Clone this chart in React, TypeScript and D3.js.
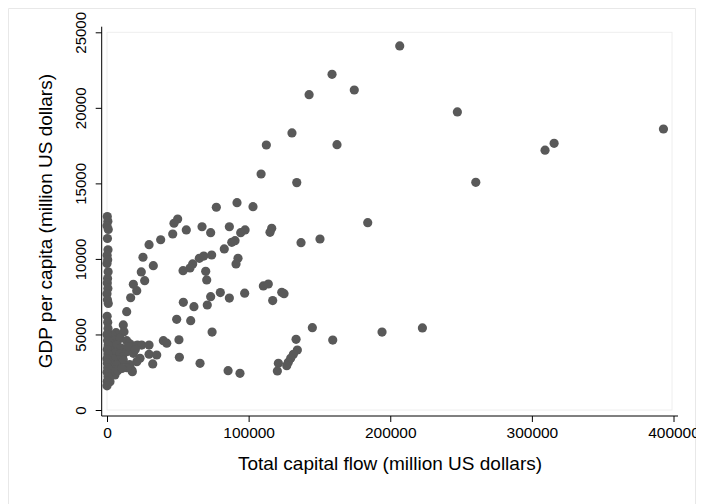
import React, { useEffect, useRef } from 'react';
import * as d3 from 'd3';

// Total capital flow (million US dollars)
const capitalFlow: number[] = [
  206700, 158900, 174600, 142700, 247400, 392900, 315700, 309300, 130600, 112500,
  162400, 108800, 134000, 260400, 184100, 137000, 150400,
  77200, 91800, 103100, 49900, 47300, 56000, 67100, 73200, 86400, 97500,
  94400, 116300, 115100, 46400, 37900, 29700, 25400, 32700, 24200, 26600,
  18600, 21000, 16700, 13900, 82800, 90400, 88100, 92500, 91100, 65200,
  68300, 73900, 60500, 58600, 53700, 69700, 70400, 110400, 113900, 123400,
  125000, 117000, 97200, 80000, 73200, 86400, 53900, 61400, 70800, 49200, 59100,
  74200, 39800, 42200, 50800, 51100, 65700, 85500, 93900, 145000, 133500,
  159400, 194200, 222700, 134400, 131600, 129700, 128000, 126900, 121000, 120300,
  11500, 6400, 12000, 3500, 8000, 5600, 9200, 13900, 15800, 18600,
  21500, 24500, 29700, 2500, 4500, 7000, 10000, 12500, 3000, 6000,
  9000, 13900, 18600, 11000, 8000, 4000, 2500, 23300, 21000, 29700,
  35100, 32300, 17400, 17900, 11500, 6900, 4400, 5600, 2100, 16000,
  14000, 3800, 1500, 15000, 20000, 7500, 10500,
  200, 600, 0, 900, 300, 700, 100, 500, 0, 800,
  400, 200, 600, 0, 300, 900, 100, 500, 700, 0,
  400, 800, 200, 600, 0, 300, 500, 100, 700, 200, 0,
];

// GDP per capita (million US dollars)
const gdpPerCapita: number[] = [
  24100, 22220, 21180, 20870, 19730, 18600, 17650, 17200, 18340, 17540,
  17560, 15620, 15050, 15070, 12400, 11075, 11320,
  13420, 13720, 13460, 12640, 12360, 11920, 12130, 11740, 12130, 11920,
  11740, 12030, 11760, 11650, 11270, 10940, 10110, 9550, 9140, 8560,
  8320, 7900, 7430, 6510, 10660, 11210, 11100, 10040, 9670, 10040,
  10190, 10260, 9670, 9400, 9220, 9180, 8610, 8210, 8340, 7790,
  7700, 7240, 7730, 7770, 7500, 7410, 7130, 6840, 6950, 6000, 5910,
  5160, 4590, 4420, 4650, 3490, 3090, 2600, 2430, 5450, 4680,
  4630, 5160, 5430, 3970, 3690, 3420, 3160, 2930, 3090, 2580,
  5630, 5120, 5180, 4950, 4700, 4630, 4750, 4590, 4400, 4240,
  4300, 4300, 4300, 4400, 4200, 4300, 4100, 4000, 3900, 3800,
  3700, 3860, 3750, 3500, 3300, 3400, 3100, 3420, 3200, 3690,
  3640, 3050, 2650, 2540, 3310, 2980, 2650, 2320, 1870, 3000,
  2800, 2600, 2100, 4200, 4000, 2600, 2750,
  12800, 12500, 12200, 11950, 11350, 10600, 10250, 9950, 9700, 9150,
  8700, 8400, 8050, 7700, 7300, 7050, 6200, 5800, 5400, 5000,
  4600, 4300, 4000, 3700, 3400, 3100, 2800, 2500, 2200, 1900, 1600,
];

const xTicks = [0, 100000, 200000, 300000, 400000];
const yTicks = [0, 5000, 10000, 15000, 20000, 25000];

const font = '"Liberation Sans", Arial, sans-serif';

export default function App() {
  const ref = useRef<SVGSVGElement>(null);

  useEffect(() => {
    const width = 688;
    const height = 496;
    const plotLeft = 99;
    const plotRight = 664;
    const plotTop = 24.3;
    const plotBottom = 402;
    const axisX = 93.7;
    const axisY = 408;

    const svg = d3.select(ref.current)
      .attr('width', width)
      .attr('height', height);

    svg.selectAll('*').remove();

    // outer frame (bottom edge falls outside the window)
    svg.append('path')
      .attr('d', `M0.5,${height}V0.5H${width - 0.5}V${height}`)
      .attr('fill', 'none')
      .attr('stroke', '#e8e8e8');

    // plot region
    svg.append('rect')
      .attr('x', plotLeft)
      .attr('y', plotTop)
      .attr('width', plotRight - plotLeft)
      .attr('height', plotBottom - plotTop)
      .attr('fill', 'none')
      .attr('stroke', '#eeeeee');

    const x = d3.scaleLinear()
      .domain([0, 400000])
      .range([plotLeft, 665.5]);

    const y = d3.scaleLinear()
      .domain([0, 25000])
      .range([plotBottom, plotTop]);

    // x axis
    svg.append('g')
      .attr('transform', `translate(0,${axisY})`)
      .call(d3.axisBottom(x).tickValues(xTicks).tickSize(6).tickPadding(4.8).tickFormat(d3.format('d')))
      .call(g => g.select('.domain').remove())
      .call(g => g.selectAll('.tick line').attr('stroke', '#000'))
      .call(g => g.selectAll('.tick text')
        .attr('fill', '#000')
        .attr('font-size', 15.5)
        .attr('font-family', font));

    svg.append('line')
      .attr('x1', axisX).attr('x2', 670)
      .attr('y1', axisY).attr('y2', axisY)
      .attr('stroke', '#000');

    // y axis
    svg.append('g')
      .attr('transform', `translate(${axisX},0)`)
      .call(d3.axisLeft(y).tickValues(yTicks).tickSize(6).tickFormat(d3.format('d')))
      .call(g => g.select('.domain').remove())
      .call(g => g.selectAll('.tick line').attr('stroke', '#000'))
      .call(g => g.selectAll('.tick text')
        .attr('fill', '#000')
        .attr('font-size', 15)
        .attr('font-family', font)
        .attr('transform', 'rotate(-90)')
        .attr('text-anchor', 'middle')
        .attr('x', 0)
        .attr('y', -15.7)
        .attr('dy', 0));

    svg.append('line')
      .attr('x1', axisX).attr('x2', axisX)
      .attr('y1', 18.7).attr('y2', axisY)
      .attr('stroke', '#000');

    // axis titles
    svg.append('text')
      .attr('x', 382)
      .attr('y', 462)
      .attr('text-anchor', 'middle')
      .attr('font-size', 19)
      .attr('font-family', font)
      .attr('fill', '#000')
      .text('Total capital flow (million US dollars)');

    svg.append('text')
      .attr('transform', `translate(44,${(plotTop + plotBottom) / 2}) rotate(-90)`)
      .attr('text-anchor', 'middle')
      .attr('font-size', 19)
      .attr('font-family', font)
      .attr('fill', '#000')
      .text('GDP per capita (million US dollars)');

    // points
    const data = capitalFlow.map((c, i) => ({ c, g: gdpPerCapita[i] }));

    svg.append('g')
      .selectAll('circle')
      .data(data)
      .join('circle')
      .attr('cx', d => x(d.c))
      .attr('cy', d => y(d.g))
      .attr('r', 4.6)
      .attr('fill', '#595959');
  }, []);

  return <svg ref={ref} style={{ display: 'block', overflow: 'visible' }}></svg>;
}
